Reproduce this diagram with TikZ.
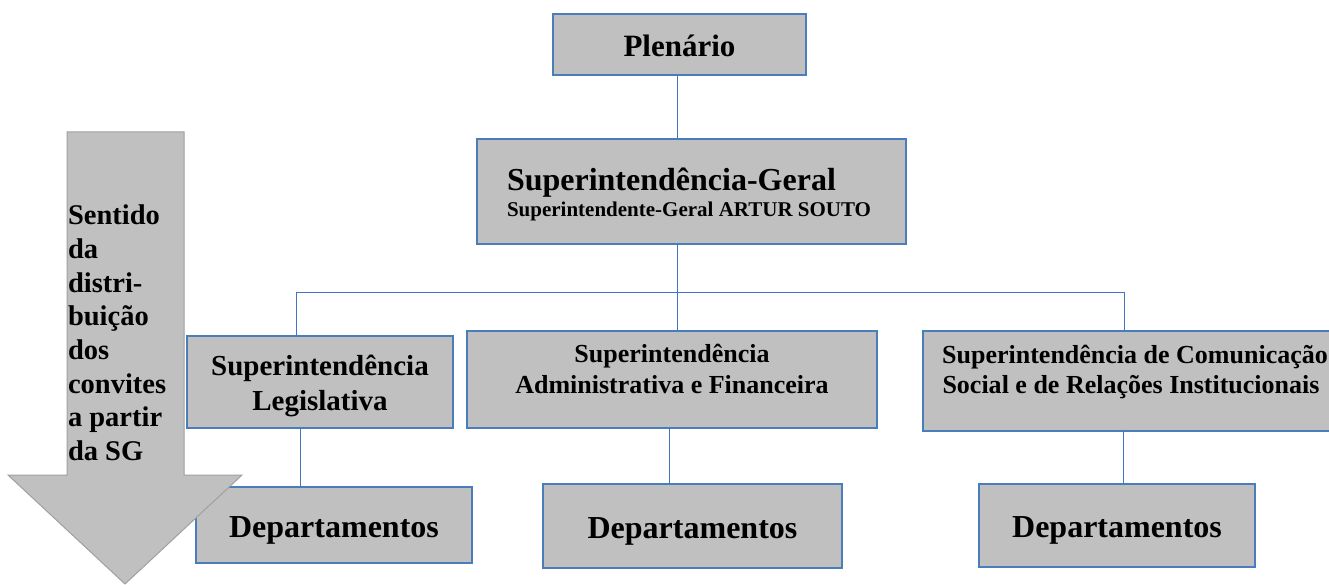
\documentclass[tikz,border=0pt]{standalone}
\usepackage{fontspec}
\setmainfont{Liberation Serif}
\definecolor{boxgray}{HTML}{C0C0C0}
\definecolor{boxblue}{HTML}{4A7EBB}
\definecolor{linkblue}{HTML}{4472C4}
\definecolor{arrowedge}{HTML}{A0A0A0}
\tikzset{
  orgbox/.style={draw=boxblue, fill=boxgray, line width=1.1pt, inner sep=0pt, anchor=north west, outer sep=0pt},
  conn/.style={draw=linkblue, line width=1pt},
  txt/.style={inner sep=0pt, outer sep=0pt, font=\bfseries},
}
\newcommand{\fs}[1]{\fontsize{#1pt}{#1pt}\selectfont\bfseries}
\begin{document}
\begin{tikzpicture}[x=1pt,y=-1pt]
\useasboundingbox (0,0) rectangle (1329,585);
% boxes
\node[orgbox, minimum width=253pt, minimum height=61pt] (plen) at (553,14) {};
\node[orgbox, minimum width=429pt, minimum height=105pt] (sg) at (477,139) {};
\node[orgbox, minimum width=266pt, minimum height=92pt] (leg) at (187,336) {};
\node[orgbox, minimum width=410pt, minimum height=97pt] (af) at (467,331) {};
\node[orgbox, minimum width=424pt, minimum height=100pt] (cs) at (923,331) {};
\node[orgbox, minimum width=276pt, minimum height=76pt] (dep1) at (196,487) {};
\node[orgbox, minimum width=299pt, minimum height=84pt] (dep2) at (543,484) {};
\node[orgbox, minimum width=276pt, minimum height=83pt] (dep3) at (979,484) {};
% connector coordinates
\coordinate (bus) at (677,292);
\coordinate (busL) at (296,292);
\coordinate (busR) at (1124,292);
\coordinate (legx) at (300,450);
\coordinate (afx) at (669,450);
\coordinate (csx) at (1123,450);
% connectors
\draw[conn] (plen.south -| bus) -- (sg.north -| bus);
\draw[conn] (sg.south -| bus) -- (af.north -| bus);
\draw[conn] (leg.north -| busL) -- (busL) -- (busR) -- (cs.north -| busR);
\draw[conn] (leg.south -| legx) -- (dep1.north -| legx);
\draw[conn] (af.south -| afx) -- (dep2.north -| afx);
\draw[conn] (cs.south -| csx) -- (dep3.north -| csx);
% texts
\node[txt, anchor=base] (tplen) at (679.5,57) {\fs{31}Plenário};
\node[txt, anchor=base west] (tsg1) at (507,191) {\fs{32}Superintendência-Geral};
\node[txt, anchor=base west] (tsg2) at (507,217) {\fs{21}Superintendente-Geral ARTUR SOUTO};
\node[txt, anchor=base] (tleg1) at (320,375) {\fs{29}Superintendência};
\node[txt, anchor=base] (tleg2) at (320,410) {\fs{29}Legislativa};
\node[txt, anchor=base] (taf1) at (672,362) {\fs{26}Superintendência};
\node[txt, anchor=base] (taf2) at (672,393) {\fs{26}Administrativa e Financeira};
\node[txt, anchor=base] (tcs1) at (1135,363) {\fs{26}Superintendência de Comunicação};
\node[txt, anchor=base] (tcs2) at (1131,393) {\fs{26}Social e de Relações Institucionais};
\node[txt, anchor=base] (td1) at (334,537) {\fs{32}Departamentos};
\node[txt, anchor=base] (td2) at (692.5,538) {\fs{32}Departamentos};
\node[txt, anchor=base] (td3) at (1117,537) {\fs{32}Departamentos};
% big arrow
\fill[boxgray, draw=arrowedge, line width=1pt] (67,132) -- (184,132) -- (184,475) -- (242,475) -- (125,584) -- (8,475) -- (67,475) -- cycle;
\node[txt, anchor=base west] (ta1) at (68,225) {\fs{28.5}Sentido};
\node[txt, anchor=base west] (ta2) at (68,258.6) {\fs{28.5}da};
\node[txt, anchor=base west] (ta3) at (68,292.2) {\fs{28.5}distri-};
\node[txt, anchor=base west] (ta4) at (68,325.8) {\fs{28.5}buição};
\node[txt, anchor=base west] (ta5) at (68,359.4) {\fs{28.5}dos};
\node[txt, anchor=base west] (ta6) at (68,393) {\fs{28.5}convites};
\node[txt, anchor=base west] (ta7) at (68,426.6) {\fs{28.5}a partir};
\node[txt, anchor=base west] (ta8) at (68,460.2) {\fs{28.5}da SG};
\end{tikzpicture}
\end{document}
